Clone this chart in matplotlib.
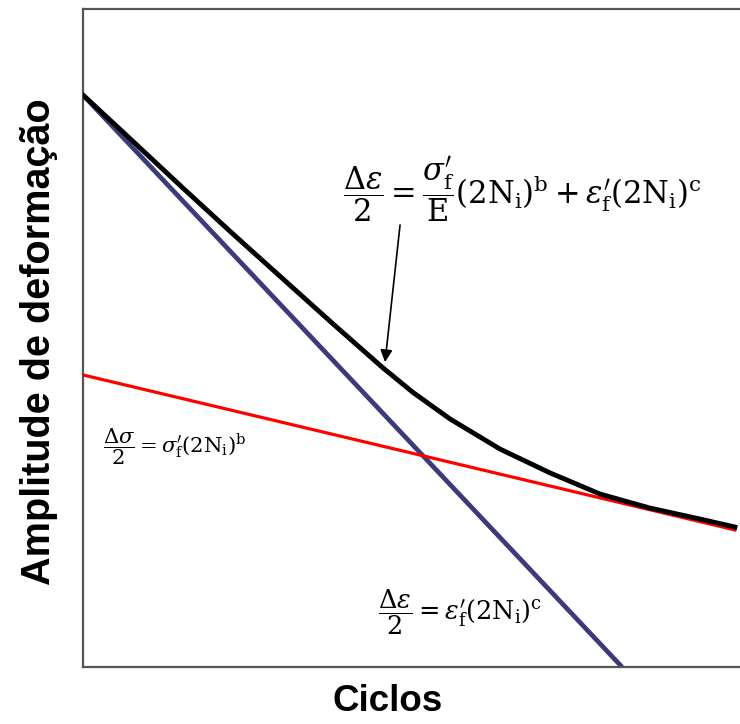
import matplotlib
matplotlib.use("Agg")
import matplotlib.pyplot as plt

plt.rcParams["mathtext.fontset"] = "dejavuserif"

# Strain-life (Coffin-Manson-Basquin) diagram, both axes in log10 units
# Elastic line (Basquin): log10(cycles) vs log10(amplitude)
elastic_x = [0.0, 6.946]
elastic_y = [-2.506, -3.144]

# Plastic line (Coffin-Manson)
plastic_x = [0.0, 5.743]
plastic_y = [-1.354, -3.708]

# Total strain amplitude curve
total_x = [0.0, 0.533, 1.065, 1.598, 2.131, 2.664, 3.196, 3.516,
           3.910, 4.443, 4.975, 5.508, 6.041, 6.574, 6.946]
total_y = [-1.354, -1.545, -1.737, -1.926, -2.111, -2.296, -2.477, -2.578,
           -2.687, -2.811, -2.909, -2.996, -3.054, -3.099, -3.132]

fig = plt.figure(figsize=(7.40, 7.24), dpi=100)
ax = fig.add_axes([83 / 740, 57 / 724, 1 - 83 / 740, 658 / 724])

ax.plot(plastic_x, plastic_y, color="#3c3a7a", lw=3.4, solid_capstyle="butt", zorder=2)
ax.plot(elastic_x, elastic_y, color="#ff0000", lw=2.3, zorder=3)
ax.plot(total_x, total_y, color="black", lw=3.5, zorder=4,
        solid_joinstyle="round")

ax.set_xlim(0, 7.0)
ax.set_ylim(-3.708, -1.0)
ax.set_xticks([])
ax.set_yticks([])
ax.spines["right"].set_visible(False)
for s in ("left", "top", "bottom"):
    ax.spines[s].set_color("#555555")
    ax.spines[s].set_linewidth(1.6)

ax.set_xlabel("Ciclos", fontsize=26.5, fontweight="bold", family="Liberation Sans")
ax.set_ylabel("Amplitude de deformação", fontsize=28.5, fontweight="bold",
              family="Liberation Sans")
ax.xaxis.set_label_coords(0.463, -0.026)
ax.yaxis.set_label_coords(-0.038, 0.494)

ax.text(2.77, -1.745,
        r"$\dfrac{\Delta\varepsilon}{2} = \dfrac{\sigma_{\mathrm{f}}^{\prime}}{\mathrm{E}}"
        r"(2\mathrm{N}_{\mathrm{i}})^{\mathrm{b}} + \varepsilon_{\mathrm{f}}^{\prime}"
        r"(2\mathrm{N}_{\mathrm{i}})^{\mathrm{c}}$",
        fontsize=22, va="center", ha="left", zorder=5)

ax.text(0.213, -2.802,
        r"$\dfrac{\Delta\sigma}{2} = \sigma_{\mathrm{f}}^{\prime}(2\mathrm{N}_{\mathrm{i}})^{\mathrm{b}}$",
        fontsize=15.2, va="center", ha="left", zorder=5)

ax.text(3.143, -3.481,
        r"$\dfrac{\Delta\varepsilon}{2} = \varepsilon_{\mathrm{f}}^{\prime}(2\mathrm{N}_{\mathrm{i}})^{\mathrm{c}}$",
        fontsize=18.4, va="center", ha="left", zorder=5)

ax.annotate("", xy=(3.218, -2.453), xytext=(3.378, -1.889),
            arrowprops=dict(arrowstyle="-|>", color="black", lw=1.2,
                            mutation_scale=18, shrinkA=0, shrinkB=0),
            zorder=6)

fig.savefig("out.png", dpi=100)
